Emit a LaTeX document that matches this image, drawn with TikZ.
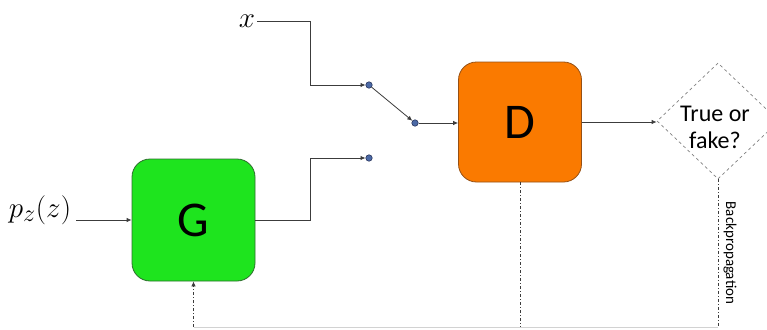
\documentclass[tikz,border=0pt]{standalone}
\usepackage{graphicx}
\usepackage{fontspec}
\setsansfont{Carlito}
\usetikzlibrary{arrows.meta,shapes.geometric}
\definecolor{gfill}{RGB}{30,228,30}
\definecolor{gline}{RGB}{45,110,45}
\definecolor{dfill}{RGB}{250,122,0}
\definecolor{dline}{RGB}{150,80,20}
\definecolor{dotfill}{RGB}{75,105,165}
\definecolor{dotline}{RGB}{30,40,80}
\definecolor{wirec}{RGB}{60,60,60}
% large math labels (math fonts stop at 24.88pt, so scale the rest)
\newcommand{\biglbl}[1]{\scalebox{1.17}{\fontsize{24.88}{30}\selectfont$#1$}}
\begin{document}
\begin{tikzpicture}[x=1pt,y=-1pt,
  block/.style={rounded corners=18pt, minimum width=123pt, minimum height=122pt,
    line width=0.8pt, font=\sffamily\fontsize{50}{60}\selectfont},
  switchdot/.style={circle, inner sep=0pt, minimum size=6.5pt, fill=dotfill,
    draw=dotline, line width=0.5pt},
  wire/.style={draw=wirec, line width=0.8pt},
  arr/.style={wire, -{Latex[length=5pt,width=4.5pt]}},
  feedback/.style={draw=wirec, line width=0.8pt,
    dash pattern=on 3pt off 2pt on 1pt off 2pt},
  mathlbl/.style={inner sep=0pt}]
\useasboundingbox (0,0) rectangle (767,329);
\clip (0,0) rectangle (767,329);

% generator and discriminator
\node[block, fill=gfill, draw=gline] (G) at (193.5,220) {G};
\node[block, fill=dfill, draw=dline, minimum height=120pt] (D) at (520,122) {D};

% decision diamond, cut off by the right edge
\node[diamond, draw=gray, dashed, line width=0.7pt, inner sep=0pt,
  minimum width=122pt, minimum height=116pt] (Q) at (718,121) {};
\node[font=\sffamily\fontsize{24}{27}\selectfont, align=center, inner sep=0pt]
  (qt) at (715,127) {True or\\fake?};

% inputs
\node[mathlbl] (xl) at (247,21) {\biglbl{x}};
\node[mathlbl] (pz) at (40,210) {\biglbl{p_z(z)}};

% switch contacts
\node[switchdot] (s1) at (369,85) {};
\node[switchdot] (s2) at (415,123) {};
\node[switchdot] (s3) at (369,158) {};
\coordinate (bx) at (310,0);
\coordinate (bot) at (0,327);

% signal paths
\draw[arr] ([xshift=2pt]xl.east) -- (xl.east -| bx) -- (bx |- s1) -- (s1);
\draw[arr] (G.east) -- (G.east -| bx) -- (bx |- s3) -- (s3);
\draw[arr] (s1) -- (s2);
\draw[arr] (s2) -- (s2 -| D.west);
\draw[arr] (D.east) -- (D.east -| Q.west);
\draw[arr] ([xshift=5pt]pz.east |- G.west) -- (G.west);

% backpropagation loop
\draw[feedback] (Q.south) -- (Q.south |- bot);
\draw[feedback] (D.south) -- (D.south |- bot);
\draw[draw=gray!35, line width=0.8pt] (Q.south |- bot) -- (G.south |- bot);
\draw[feedback, -{Latex[length=5pt,width=4.5pt]}] (G.south |- bot) -- (G.south);
\node[rotate=-90, font=\sffamily\fontsize{15}{18}\selectfont, inner sep=0pt]
  (bp) at (730,253) {Backpropagation};
\end{tikzpicture}
\end{document}
